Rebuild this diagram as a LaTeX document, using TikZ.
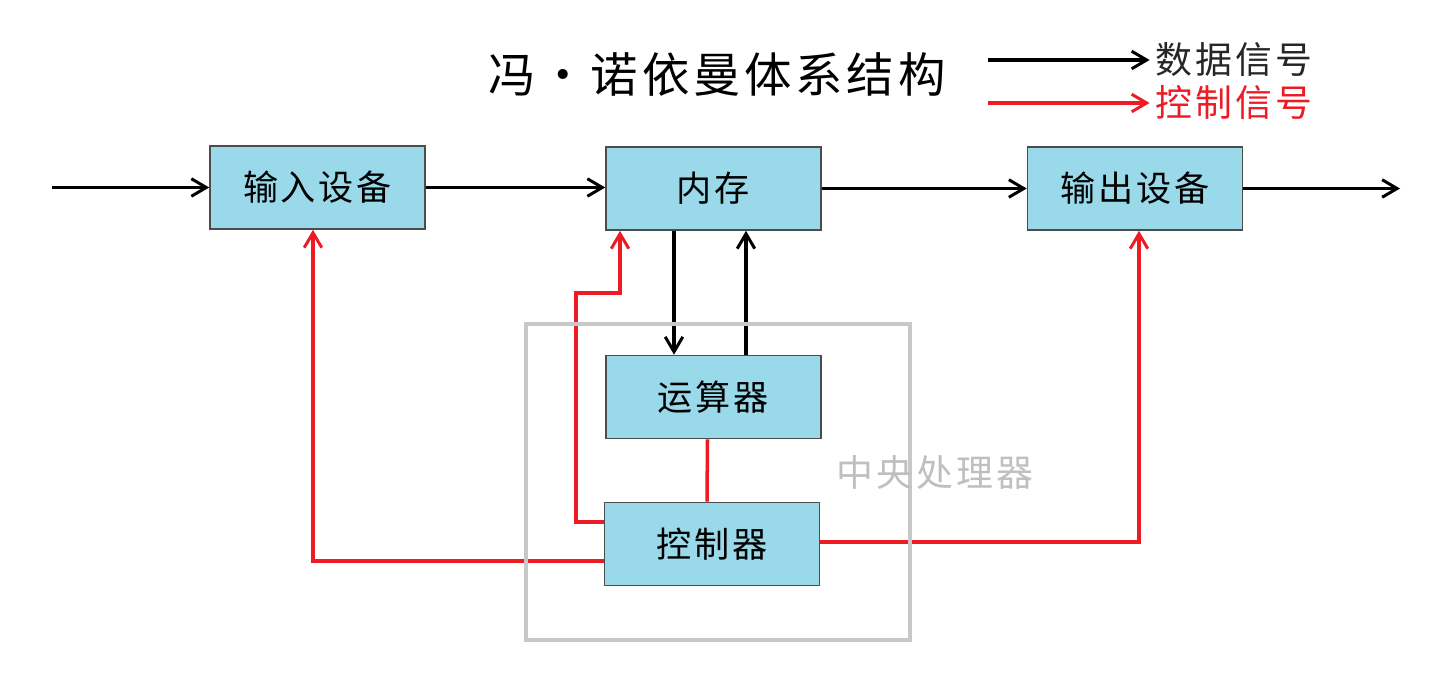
\documentclass[tikz,border=0pt]{standalone}
\usepackage{fontspec}
\newfontfamily\cjk[LetterSpace=8]{Noto Sans CJK SC}
\usepackage{tikz}
\usetikzlibrary{arrows.meta}
\definecolor{boxblue}{HTML}{99D9EA}
\definecolor{sigred}{HTML}{ED1C24}
\definecolor{cpugray}{HTML}{C8C8C8}

\begin{document}
\begin{tikzpicture}[x=0.02cm,y=-0.02cm]
        \tikzset{unit/.style = {shape=rectangle,draw=black!70,fill=boxblue,line width=0.9pt,
                minimum width=4.3cm,minimum height=1.66cm,font=\cjk\fontsize{20}{20}\selectfont}}
        \tikzset{data/.style = {-{Straight Barb[length=8.5pt,width=10pt,line width=1.7pt]},line width=2pt}}
        \tikzset{ctrl/.style = {data,draw=sigred}}
        \useasboundingbox (0,0) rectangle (1453,676);

        % title and legend
        \node[font=\cjk\fontsize{27}{27}\selectfont] (title) at (717,75) {冯•诺依曼体系结构};
        \coordinate (kdstart) at (988,60);
        \coordinate (kcstart) at (988,103);
        \node[font=\cjk\fontsize{21}{21}\selectfont,text=black!85] (kdata) at (1234,60) {数据信号};
        \node[font=\cjk\fontsize{21}{21}\selectfont,text=sigred] (kctrl) at (1234,103) {控制信号};
        \draw[data] (kdstart) -- (kdata.west);
        \draw[ctrl] (kcstart) -- (kctrl.west);

        % units
        \node[unit] (in) at (317.5,187.5) {输入设备};
        \node[unit] (mem) at (713.5,188.5) {内存};
        \node[unit] (out) at (1135,188.5) {输出设备};
        \node[unit] (alu) at (713.5,397) {运算器};
        \node[unit] (cu) at (712,544) {控制器};
        \coordinate (src) at (52,187.5);
        \coordinate (sink) at (1400,188.5);

        % data signals
        \draw[data] (src) -- (in.west);
        \draw[data] (in.east) -- (in.east -| mem.west);
        \draw[data] (mem) -- (out);
        \draw[data] (out.east) -- (sink);
        \draw[data] ([xshift=-0.79cm]mem.south) -- ([xshift=-0.79cm]alu.north);
        \draw[data] ([xshift=0.65cm]alu.north) -- ([xshift=0.65cm]mem.south);

        % control signals
        \draw[sigred,line width=2pt] ([xshift=-0.12cm]alu.south) -- ([xshift=-0.1cm]cu.north);
        \draw[ctrl] ([yshift=0.44cm]cu.west) -| (576,293) -| ([xshift=-1.87cm]mem.south);
        \draw[ctrl] ([yshift=-0.34cm]cu.west) -| ([xshift=-0.09cm]in.south);
        \draw[ctrl] ([yshift=0.04cm]cu.east) -| ([xshift=0.08cm]out.south);

        % cpu frame
        \node[draw=cpugray,line width=2pt,minimum width=7.68cm,minimum height=6.32cm] (cpu) at (718,482) {};
        \node[font=\cjk\fontsize{21}{21}\selectfont,text=black!25] (cpulabel) at (935,472) {中央处理器};
\end{tikzpicture}
\end{document}
